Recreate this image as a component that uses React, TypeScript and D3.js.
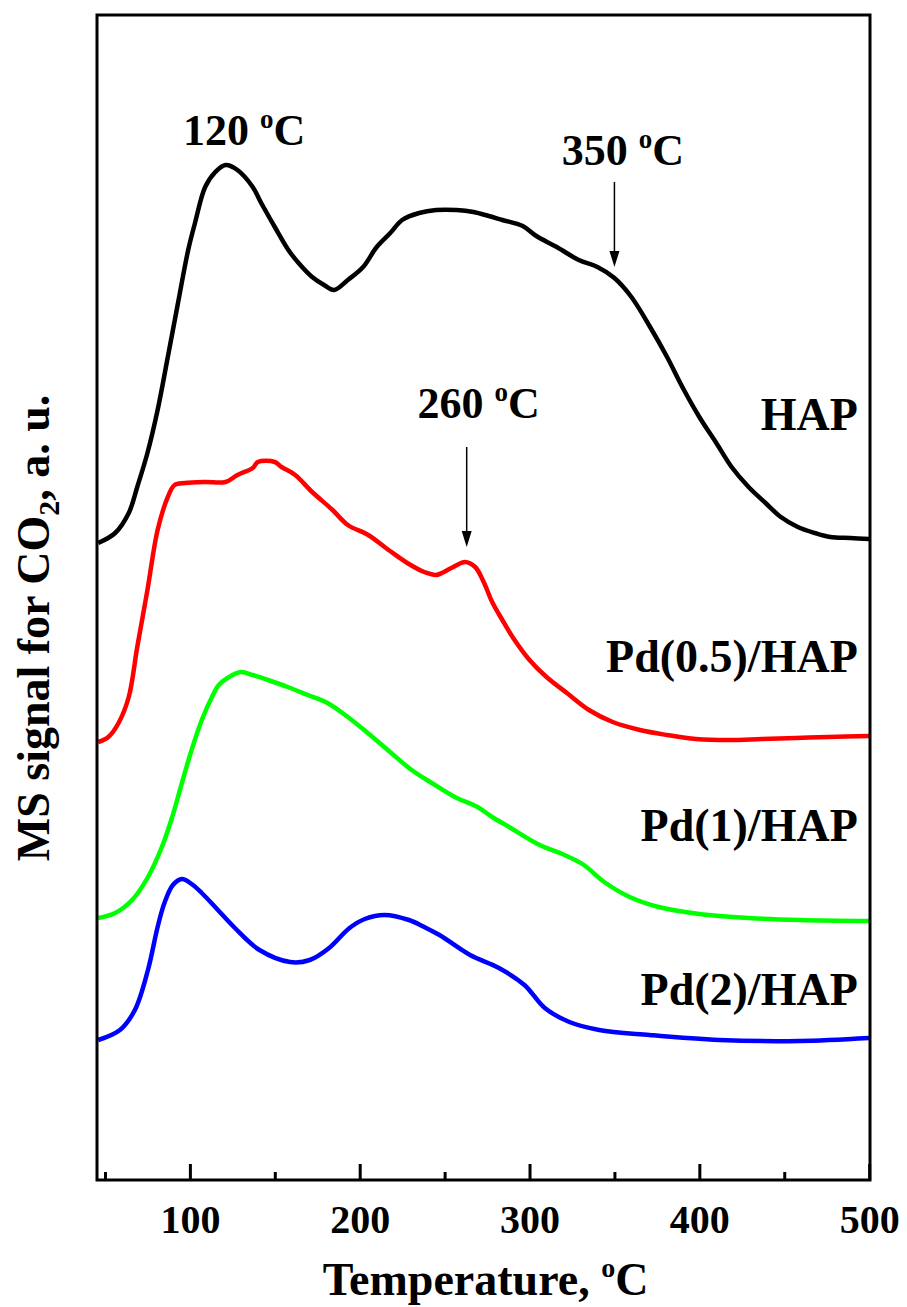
import React, { useEffect, useRef } from 'react';
import * as d3 from 'd3';

// TPD-CO2 curves, signal in a.u.
const hapTemp = [46, 56, 64, 69, 75, 81, 87, 93, 99, 103, 109, 115, 121, 128, 137, 142, 150, 158, 164, 172, 179, 185, 193, 202, 210, 218, 225, 235, 245, 257, 267, 276, 284, 296, 304, 316, 329, 340, 350, 360, 371, 381, 390, 400, 410, 419, 429, 439, 448, 458, 468, 477, 489, 500];
const hapSignal = [63.7, 64.7, 66.7, 69.3, 72.7, 77.0, 82.3, 87.7, 93.0, 95.7, 99.3, 100.8, 101.5, 101.0, 99.3, 97.7, 95.3, 93.0, 91.7, 90.3, 89.5, 89.0, 90.0, 91.3, 93.3, 94.7, 96.0, 96.7, 97.0, 97.0, 96.8, 96.4, 96.0, 95.4, 94.4, 93.3, 92.0, 91.3, 90.2, 88.3, 85.3, 82.3, 79.3, 76.3, 73.7, 71.3, 69.3, 67.7, 66.3, 65.3, 64.7, 64.3, 64.2, 64.1];

const pd05Temp = [46, 52, 58, 64, 69, 75, 81, 87, 91, 97, 109, 121, 128, 137, 140, 150, 154, 162, 172, 184, 193, 205, 217, 228, 238, 245, 254, 262, 268, 273, 278, 284, 290, 300, 310, 322, 335, 349, 365, 381, 398, 418, 437, 457, 476, 500];
const pd05Signal = [43.8, 44.3, 45.7, 48.3, 53.3, 59.0, 65.0, 68.3, 69.5, 69.7, 69.8, 69.8, 70.5, 71.2, 71.8, 71.8, 71.3, 70.5, 68.8, 67.0, 65.5, 64.5, 63.0, 61.7, 60.8, 60.5, 61.2, 61.8, 61.3, 59.8, 57.8, 56.0, 54.3, 52.0, 50.3, 48.7, 47.0, 45.8, 45.0, 44.5, 44.1, 44.0, 44.1, 44.2, 44.3, 44.4];

const pd1Temp = [46, 56, 66, 75, 83.5, 89.4, 95.3, 101, 107, 113, 117, 123, 130, 137, 146, 157.6, 169.4, 181, 193, 204.7, 216.5, 230.6, 242.4, 256, 269.4, 278, 288, 306, 320.6, 332, 344, 359, 376, 400, 429, 459, 500];
const pd1Signal = [26.2, 26.7, 28.0, 30.2, 33.3, 36.2, 39.7, 43.0, 46.0, 48.3, 49.5, 50.3, 50.8, 50.5, 50.0, 49.3, 48.5, 47.7, 46.3, 44.7, 43.0, 41.0, 39.7, 38.3, 37.3, 36.3, 35.3, 33.5, 32.5, 31.5, 29.8, 28.3, 27.3, 26.6, 26.2, 26.0, 25.9];

const pd2Temp = [46, 58.8, 67.6, 75.3, 81, 85, 90, 95.3, 101, 107, 116.5, 126.5, 141, 159, 170.6, 182, 194, 203, 214.7, 229, 238, 247, 265, 282, 297, 309, 323.5, 341, 370.6, 411.8, 458.8, 500];
const pd2Signal = [14.0, 15.0, 17.0, 21.0, 25.3, 27.7, 29.5, 30.1, 29.6, 28.7, 27.0, 25.2, 23.0, 21.8, 22.0, 23.2, 25.2, 26.1, 26.5, 26.0, 25.3, 24.5, 22.5, 21.2, 19.5, 17.2, 15.8, 15.0, 14.5, 14.0, 13.9, 14.2];

const seriesNames = ['HAP', 'Pd(0.5)/HAP', 'Pd(1)/HAP', 'Pd(2)/HAP'];
const seriesColors = ['#000000', '#ff0000', '#00ff00', '#0000ff'];
const labelSignal = [75.0, 50.8, 33.9, 17.5];

const majorTicks = [100, 200, 300, 400, 500];
const minorTicks = [50, 150, 250, 350, 450];

// peak annotations
const peakLabels = ['120', '350', '260'];
const peakTextTemp = [132, 355, 270];
const peakTextSignal = [103.5, 101.5, 76.2];
const arrowTemp = [null, 350, 263];
const arrowTop = [null, 99.8, 73.3];
const arrowTip = [null, 91.3, 63.3];

const FONT = '"Liberation Serif", "Times New Roman", serif';

const App = () => {
  const svgRef = useRef(null);

  useEffect(() => {
    document.body.style.margin = '0';
    const width = 907;
    const height = 1307;
    const margin = { left: 97, right: 37, top: 15, bottom: 127 };

    const svg = d3.select(svgRef.current).attr('width', width).attr('height', height);
    svg.selectAll('*').remove();

    const x = d3.scaleLinear().domain([45.3, 500.5]).range([margin.left, width - margin.right]);
    const y = d3.scaleLinear().domain([0, 116.5]).range([height - margin.bottom, margin.top]);

    const series = [
      { t: hapTemp, v: hapSignal },
      { t: pd05Temp, v: pd05Signal },
      { t: pd1Temp, v: pd1Signal },
      { t: pd2Temp, v: pd2Signal },
    ];

    const line = d3
      .line()
      .x(d => x(d[0]))
      .y(d => y(d[1]))
      .curve(d3.curveCatmullRom.alpha(0.5));

    svg
      .append('clipPath')
      .attr('id', 'plot-clip')
      .append('rect')
      .attr('x', margin.left)
      .attr('y', margin.top)
      .attr('width', width - margin.left - margin.right)
      .attr('height', height - margin.top - margin.bottom);

    series.forEach((s, i) => {
      svg
        .append('path')
        .attr('clip-path', 'url(#plot-clip)')
        .attr('d', line(s.t.map((t, k) => [t, s.v[k]])))
        .attr('fill', 'none')
        .attr('stroke', seriesColors[i])
        .attr('stroke-width', 4.5)
        .attr('stroke-linejoin', 'round');

      svg
        .append('text')
        .attr('x', x(498) - 8)
        .attr('y', y(labelSignal[i]))
        .attr('text-anchor', 'end')
        .attr('font-family', FONT)
        .attr('font-weight', 'bold')
        .attr('font-size', 46)
        .text(seriesNames[i]);
    });

    // axes
    const bottom = height - margin.bottom;
    const xAxis = d3
      .axisBottom(x)
      .tickValues(majorTicks)
      .tickSizeInner(-16)
      .tickSizeOuter(0)
      .tickPadding(25)
      .tickFormat(d3.format('d'));
    const gx = svg.append('g').attr('transform', `translate(0,${bottom})`).call(xAxis);
    gx.select('.domain').remove();
    gx.selectAll('line').attr('stroke', '#000').attr('stroke-width', 3);
    gx.selectAll('text')
      .attr('font-family', FONT)
      .attr('font-weight', 'bold')
      .attr('font-size', 40)
      .attr('fill', '#000');

    const xMinor = d3.axisBottom(x).tickValues(minorTicks).tickSizeInner(-8).tickSizeOuter(0).tickFormat(() => '');
    const gm = svg.append('g').attr('transform', `translate(0,${bottom})`).call(xMinor);
    gm.select('.domain').remove();
    gm.selectAll('line').attr('stroke', '#000').attr('stroke-width', 3);

    svg
      .append('rect')
      .attr('x', margin.left)
      .attr('y', margin.top)
      .attr('width', width - margin.left - margin.right)
      .attr('height', height - margin.top - margin.bottom)
      .attr('fill', 'none')
      .attr('stroke', '#000')
      .attr('stroke-width', 3);

    // axis titles
    const xt = svg
      .append('text')
      .attr('x', (margin.left + width - margin.right) / 2 + 2)
      .attr('y', 1295)
      .attr('text-anchor', 'middle')
      .attr('font-family', FONT)
      .attr('font-weight', 'bold')
      .attr('font-size', 46);
    xt.append('tspan').text('Temperature, ');
    xt.append('tspan').attr('font-size', 28).attr('dy', -18).text('o');
    xt.append('tspan').attr('dy', 18).text('C');

    const yt = svg
      .append('text')
      .attr('transform', `translate(49,${628}) rotate(-90)`)
      .attr('text-anchor', 'middle')
      .attr('font-family', FONT)
      .attr('font-weight', 'bold')
      .attr('font-size', 46);
    yt.append('tspan').text('MS signal for CO');
    yt.append('tspan').attr('font-size', 30).attr('dy', 10).text('2');
    yt.append('tspan').attr('dy', -10).text(', a. u.');

    // peak annotations
    peakLabels.forEach((lab, i) => {
      const t = svg
        .append('text')
        .attr('x', x(peakTextTemp[i]))
        .attr('y', y(peakTextSignal[i]))
        .attr('text-anchor', 'middle')
        .attr('font-family', FONT)
        .attr('font-weight', 'bold')
        .attr('font-size', 44);
      t.append('tspan').text(lab + ' ');
      t.append('tspan').attr('font-size', 27).attr('dy', -17).text('o');
      t.append('tspan').attr('dy', 17).text('C');

      if (arrowTemp[i] != null) {
        const ax = x(arrowTemp[i]);
        const y0 = y(arrowTop[i]);
        const y1 = y(arrowTip[i]);
        svg
          .append('line')
          .attr('x1', ax)
          .attr('x2', ax)
          .attr('y1', y0)
          .attr('y2', y1 - 10)
          .attr('stroke', '#000')
          .attr('stroke-width', 1.5);
        svg
          .append('path')
          .attr('d', `M${ax - 5},${y1 - 16}L${ax + 5},${y1 - 16}L${ax},${y1}Z`)
          .attr('fill', '#000');
      }
    });
  }, []);

  return (
    <div>
      <svg ref={svgRef} style={{ display: 'block' }}></svg>
    </div>
  );
};

export default App;
